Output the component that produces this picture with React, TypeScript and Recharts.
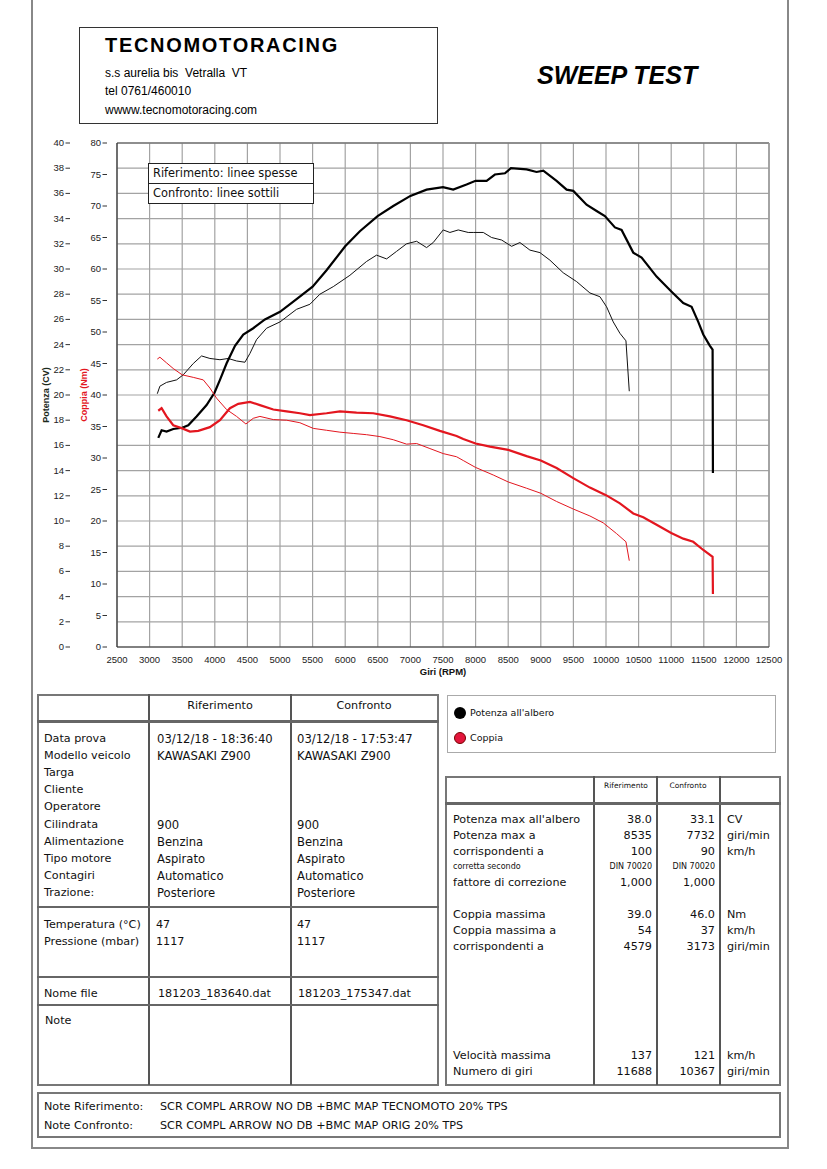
import React from "react";
import { LineChart, Line, XAxis, YAxis, CartesianGrid, ReferenceLine } from "recharts";

// ---------- data ----------
const refPowerRpm = [3133, 3184, 3260, 3363, 3500, 3593, 3720, 3874, 3997, 4079, 4180, 4310, 4437, 4590, 4769, 5000, 5254, 5500, 5714, 6000, 6225, 6497, 6737, 7000, 7248, 7500, 7657, 7861, 8000, 8169, 8296, 8450, 8542, 8782, 8935, 9038, 9242, 9396, 9498, 9702, 9856, 9983, 10137, 10239, 10418, 10546, 10776, 11006, 11185, 11313, 11415, 11492, 11594, 11635, 11640];
const refPowerCv = [16.6, 17.2, 17.1, 17.3, 17.4, 17.6, 18.3, 19.2, 20.2, 21.2, 22.5, 23.9, 24.8, 25.3, 26.0, 26.6, 27.6, 28.6, 29.9, 31.8, 33.0, 34.2, 35.0, 35.8, 36.3, 36.5, 36.3, 36.7, 37.0, 37.0, 37.5, 37.6, 38.0, 37.9, 37.7, 37.8, 37.0, 36.3, 36.2, 35.1, 34.6, 34.2, 33.3, 33.1, 31.3, 30.9, 29.4, 28.2, 27.3, 27.0, 25.8, 24.8, 23.9, 23.6, 13.8];

const cmpPowerRpm = [3118, 3158, 3260, 3414, 3516, 3670, 3797, 3925, 4079, 4206, 4334, 4462, 4539, 4641, 4794, 5000, 5254, 5459, 5612, 5817, 6072, 6328, 6481, 6635, 6788, 6941, 7095, 7248, 7350, 7503, 7606, 7734, 7887, 7964, 8118, 8245, 8399, 8552, 8680, 8833, 8987, 9140, 9344, 9549, 9753, 9907, 10009, 10111, 10213, 10306, 10357];
const cmpPowerCv = [20.1, 20.7, 21.0, 21.2, 21.6, 22.5, 23.1, 22.9, 22.8, 22.9, 22.7, 22.6, 23.3, 24.4, 25.3, 25.8, 26.8, 27.2, 28.0, 28.6, 29.5, 30.6, 31.1, 30.8, 31.4, 32.0, 32.2, 31.7, 32.1, 33.1, 32.9, 33.1, 32.9, 32.9, 32.9, 32.5, 32.3, 31.8, 32.1, 31.5, 31.3, 30.7, 29.7, 29.0, 28.1, 27.8, 27.0, 25.8, 24.9, 24.3, 20.3];

const refTorqueRpm = [3133, 3184, 3260, 3363, 3500, 3619, 3746, 3925, 4079, 4232, 4360, 4539, 4692, 4897, 5101, 5305, 5459, 5714, 5919, 6174, 6430, 6686, 6941, 7197, 7452, 7708, 7811, 8000, 8220, 8500, 8782, 9000, 9242, 9498, 9753, 10000, 10213, 10418, 10571, 10776, 11000, 11185, 11338, 11492, 11635, 11640];
const refTorqueNm = [37.5, 37.9, 36.6, 35.2, 34.7, 34.2, 34.3, 34.9, 36.0, 37.9, 38.6, 38.9, 38.4, 37.7, 37.4, 37.1, 36.8, 37.1, 37.4, 37.2, 37.1, 36.6, 36.0, 35.2, 34.3, 33.5, 33.0, 32.3, 31.8, 31.3, 30.3, 29.6, 28.4, 26.8, 25.3, 24.1, 22.8, 21.2, 20.6, 19.4, 18.1, 17.2, 16.7, 15.4, 14.3, 8.4];

const cmpTorqueRpm = [3118, 3158, 3260, 3363, 3500, 3670, 3823, 3925, 4027, 4180, 4334, 4477, 4590, 4692, 4897, 5101, 5305, 5510, 5714, 5919, 6123, 6328, 6532, 6737, 6941, 7095, 7299, 7503, 7708, 7811, 8000, 8271, 8500, 8782, 9000, 9242, 9498, 9753, 9958, 10162, 10306, 10357];
const cmpTorqueNm = [45.7, 46.0, 45.1, 44.2, 43.2, 42.8, 42.4, 41.1, 39.5, 37.7, 36.6, 35.4, 36.3, 36.6, 36.1, 36.0, 35.6, 34.7, 34.4, 34.1, 33.9, 33.7, 33.4, 32.9, 32.2, 32.3, 31.5, 30.7, 30.2, 29.6, 28.5, 27.3, 26.2, 25.2, 24.4, 23.1, 21.9, 20.8, 19.7, 18.0, 16.7, 13.7];

const rpmTicks = [2500, 3000, 3500, 4000, 4500, 5000, 5500, 6000, 6500, 7000, 7500, 8000, 8500, 9000, 9500, 10000, 10500, 11000, 11500, 12000, 12500];
const powerTicks = [0, 2, 4, 6, 8, 10, 12, 14, 16, 18, 20, 22, 24, 26, 28, 30, 32, 34, 36, 38, 40];
const torqueTicks = [0, 5, 10, 15, 20, 25, 30, 35, 40, 45, 50, 55, 60, 65, 70, 75, 80];

const leftRows = ["Data prova", "Modello veicolo", "Targa", "Cliente", "Operatore", "Cilindrata", "Alimentazione", "Tipo motore", "Contagiri", "Trazione:"];
const refRows = ["03/12/18 - 18:36:40", "KAWASAKI Z900", "", "", "", "900", "Benzina", "Aspirato", "Automatico", "Posteriore"];
const cmpRows = ["03/12/18 - 17:53:47", "KAWASAKI Z900", "", "", "", "900", "Benzina", "Aspirato", "Automatico", "Posteriore"];

const rightRowsA = ["Potenza max all'albero", "Potenza max a", "corrispondenti a", "corretta secondo", "fattore di correzione"];
const rightRefA = ["38.0", "8535", "100", "DIN 70020", "1,000"];
const rightCmpA = ["33.1", "7732", "90", "DIN 70020", "1,000"];
const rightUnitA = ["CV", "giri/min", "km/h", "", ""];
const rightRowsB = ["Coppia massima", "Coppia massima a", "corrispondenti a"];
const rightRefB = ["39.0", "54", "4579"];
const rightCmpB = ["46.0", "37", "3173"];
const rightUnitB = ["Nm", "km/h", "giri/min"];
const rightRowsC = ["Velocità massima", "Numero di giri"];
const rightRefC = ["137", "11688"];
const rightCmpC = ["121", "10367"];
const rightUnitC = ["km/h", "giri/min"];

const toSeries = (xs: number[], ys: number[], key: string) => xs.map((x, i) => ({ rpm: x, [key]: ys[i] }));
const refPower = toSeries(refPowerRpm, refPowerCv, "cv");
const cmpPower = toSeries(cmpPowerRpm, cmpPowerCv, "cv");
const refTorque = toSeries(refTorqueRpm, refTorqueNm, "nm");
const cmpTorque = toSeries(cmpTorqueRpm, cmpTorqueNm, "nm");

const RED = "#e3161f";
const NARROW = "'Liberation Sans Narrow', 'Arial Narrow', 'Liberation Sans', sans-serif";
const TAHOMA = "'DejaVu Sans', Verdana, sans-serif";
const ARIAL = "'Liberation Sans', Arial, sans-serif";

const PowerTick = (props: any) => {
  const { y, payload } = props;
  return (
    <g>
      <text x={64} y={y + 3} textAnchor="end" fontFamily={NARROW} fontSize={9.5} fill="#222">{payload.value}</text>
      <line x1={65.5} x2={70} y1={y} y2={y} stroke="#333" strokeWidth={1} />
    </g>
  );
};
const TorqueTick = (props: any) => {
  const { y, payload } = props;
  return (
    <g>
      <text x={101} y={y + 3} textAnchor="end" fontFamily={NARROW} fontSize={9.5} fill="#222">{payload.value}</text>
      <line x1={102.5} x2={107} y1={y} y2={y} stroke="#333" strokeWidth={1} />
    </g>
  );
};
const RpmTick = (props: any) => {
  const { x, payload } = props;
  return (
    <text x={x} y={663} textAnchor="middle" fontFamily={NARROW} fontSize={9.5} fill="#222">{payload.value}</text>
  );
};

const abs = (l: number, t: number, extra: React.CSSProperties = {}): React.CSSProperties => ({ position: "absolute", left: l, top: t, ...extra });
const hline = (l: number, t: number, w: number, h: number, c = "#777") => <div style={abs(l, t, { width: w, height: h, background: c })} />;
const vline = (l: number, t: number, h: number, w: number, c = "#777") => <div style={abs(l, t, { width: w, height: h, background: c })} />;

const T = (l: number, cy: number, text: string, size = 11.2, extra: React.CSSProperties = {}) => (
  <div style={abs(l, cy - 8, { fontFamily: TAHOMA, fontSize: size, lineHeight: "16px", whiteSpace: "nowrap", color: "#111", ...extra })}>{text}</div>
);
const TR = (r: number, cy: number, text: string, size = 11.2) => (
  <div style={abs(r - 120, cy - 8, { width: 120, textAlign: "right", fontFamily: TAHOMA, fontSize: size, lineHeight: "16px", whiteSpace: "nowrap", color: "#111" })}>{text}</div>
);
const TC = (c: number, cy: number, text: string, size = 11.2) => (
  <div style={abs(c - 80, cy - 8, { width: 160, textAlign: "center", fontFamily: TAHOMA, fontSize: size, lineHeight: "16px", whiteSpace: "nowrap", color: "#111" })}>{text}</div>
);

export default function App() {
  return (
    <div style={{ position: "absolute", left: 0, top: 0, width: 827, height: 1169, background: "#fff", overflow: "hidden" }}>
      {/* page frame */}
      {vline(31, 0, 1148, 2, "#888")}
      {vline(787, 0, 1148, 2, "#888")}
      {hline(31, 1147, 758, 2, "#888")}

      {/* header */}
      <div style={abs(79, 27, { width: 359, height: 97, border: "1px solid #333", boxSizing: "border-box" })} />
      <div style={abs(105, 31, { fontFamily: ARIAL, fontWeight: "bold", fontSize: 20, letterSpacing: 1.7, lineHeight: "28px", color: "#000" })}>TECNOMOTORACING</div>
      <div style={abs(105, 65, { fontFamily: ARIAL, fontSize: 12, lineHeight: "16px", whiteSpace: "pre" })}>{"s.s aurelia bis  Vetralla  VT"}</div>
      <div style={abs(105, 83, { fontFamily: ARIAL, fontSize: 12, lineHeight: "16px" })}>tel 0761/460010</div>
      <div style={abs(105, 102, { fontFamily: ARIAL, fontSize: 12, lineHeight: "16px" })}>wwww.tecnomotoracing.com</div>
      <div style={abs(537, 58, { fontFamily: ARIAL, fontWeight: "bold", fontStyle: "italic", fontSize: 25, lineHeight: "34px", color: "#000" })}>SWEEP TEST</div>

      {/* chart */}
      <div style={abs(0, 0)}>
        <LineChart width={827} height={690} margin={{ top: 143, right: 58, bottom: 13, left: 115 }}>
          <CartesianGrid yAxisId="p" stroke="#a3a3a3" strokeWidth={1.2} />
          <XAxis dataKey="rpm" type="number" domain={[2500, 12500]} ticks={rpmTicks} interval={0} allowDataOverflow
            axisLine={{ stroke: "#333", strokeWidth: 1.2 }} tickLine={false} tick={<RpmTick />} height={30} />
          <YAxis yAxisId="p" type="number" domain={[0, 40]} ticks={powerTicks} interval={0} width={1} axisLine={false} tickLine={false} tick={<PowerTick />} />
          <YAxis yAxisId="t" type="number" domain={[0, 80]} ticks={torqueTicks} interval={0} width={1} axisLine={false} tickLine={false} tick={<TorqueTick />} />
          <ReferenceLine yAxisId="p" y={40} stroke="#777" strokeWidth={1.5} />
          <ReferenceLine yAxisId="p" x={12500} stroke="#999" strokeWidth={1.5} />
          <ReferenceLine yAxisId="p" x={2500} stroke="#333" strokeWidth={1.2} />
          <Line yAxisId="p" data={cmpPower} dataKey="cv" type="linear" stroke="#111" strokeWidth={1} dot={false} isAnimationActive={false} />
          <Line yAxisId="p" data={refPower} dataKey="cv" type="linear" stroke="#000" strokeWidth={2.2} dot={false} isAnimationActive={false} />
          <Line yAxisId="t" data={cmpTorque} dataKey="nm" type="linear" stroke={RED} strokeWidth={1} dot={false} isAnimationActive={false} />
          <Line yAxisId="t" data={refTorque} dataKey="nm" type="linear" stroke={RED} strokeWidth={2.2} dot={false} isAnimationActive={false} />
          <text x={443} y={675} textAnchor="middle" fontFamily={NARROW} fontWeight="bold" fontSize={9.5} fill="#111">Giri (RPM)</text>
          <text transform="translate(49,395) rotate(-90)" textAnchor="middle" fontFamily={NARROW} fontWeight="bold" fontSize={9} fill="#1c2a1c">Potenza (CV)</text>
          <text transform="translate(87,395) rotate(-90)" textAnchor="middle" fontFamily={NARROW} fontWeight="bold" fontSize={9} fill={RED}>Coppia (Nm)</text>
        </LineChart>
      </div>

      {/* in-chart legend */}
      <div style={abs(148, 163, { width: 166, height: 41, border: "1px solid #222", boxSizing: "border-box", background: "#fff" })} />
      {hline(148, 183, 166, 1, "#222")}
      {T(153, 173, "Riferimento: linee spesse", 11.4)}
      {T(153, 193, "Confronto: linee sottili", 11.4)}

      {/* left table */}
      <div style={abs(37, 694, { width: 402, height: 392, border: "2px solid #777", boxSizing: "border-box" })} />
      {vline(148, 694, 391, 1.5, "#555")}
      {vline(290, 694, 391, 1.5, "#555")}
      {hline(37, 720, 402, 3, "#666")}
      {hline(37, 906, 402, 1.5, "#666")}
      {hline(37, 976, 402, 1.5, "#666")}
      {hline(37, 1004, 402, 1.5, "#666")}
      {TC(220, 706, "Riferimento")}
      {TC(364, 706, "Confronto")}
      {leftRows.map((r, i) => <React.Fragment key={r}>{T(44, 739 + i * 17.1, r)}</React.Fragment>)}
      {refRows.map((r, i) => <React.Fragment key={"a" + i}>{T(157, 739 + i * 17.1, r, 11.6)}</React.Fragment>)}
      {cmpRows.map((r, i) => <React.Fragment key={"b" + i}>{T(297, 739 + i * 17.1, r, 11.6)}</React.Fragment>)}
      {T(44, 925, "Temperatura (°C)")}
      {T(44, 942, "Pressione (mbar)")}
      {T(156, 925, "47")}
      {T(156, 942, "1117")}
      {T(297, 925, "47")}
      {T(297, 942, "1117")}
      {T(44, 994, "Nome file")}
      {T(158, 994, "181203_183640.dat")}
      {T(298, 994, "181203_175347.dat")}
      {T(45, 1021, "Note")}

      {/* series legend */}
      <div style={abs(447, 695, { width: 329, height: 58, border: "1.5px solid #aaa", boxSizing: "border-box" })} />
      <div style={abs(454, 707, { width: 12, height: 12, borderRadius: 6, background: "#000" })} />
      <div style={abs(454, 732, { width: 12, height: 12, borderRadius: 6, background: "#e3163c", border: "1px solid #700", boxSizing: "border-box" })} />
      {T(470, 713, "Potenza all'albero", 9.5)}
      {T(470, 738, "Coppia", 9.5)}

      {/* right table */}
      <div style={abs(445, 776, { width: 336, height: 310, border: "2px solid #777", boxSizing: "border-box" })} />
      {vline(593, 776, 309, 1.5, "#555")}
      {vline(656, 776, 309, 1.5, "#555")}
      {vline(719, 776, 309, 1.5, "#555")}
      {hline(445, 802, 336, 3, "#666")}
      {TC(626, 786, "Riferimento", 7.5)}
      {TC(688, 786, "Confronto", 7.5)}
      {rightRowsA.map((r, i) => <React.Fragment key={r}>{T(453, 820 + i * 15.8, r, i === 3 ? 8 : 11.2)}</React.Fragment>)}
      {rightRefA.map((r, i) => <React.Fragment key={"ra" + i}>{TR(652, 820 + i * 15.8, r, i === 3 ? 8 : 11.2)}</React.Fragment>)}
      {rightCmpA.map((r, i) => <React.Fragment key={"ca" + i}>{TR(715, 820 + i * 15.8, r, i === 3 ? 8 : 11.2)}</React.Fragment>)}
      {rightUnitA.map((r, i) => <React.Fragment key={"ua" + i}>{T(727, 820 + i * 15.8, r)}</React.Fragment>)}
      {rightRowsB.map((r, i) => <React.Fragment key={"b" + r}>{T(453, 915 + i * 16, r)}</React.Fragment>)}
      {rightRefB.map((r, i) => <React.Fragment key={"rb" + i}>{TR(652, 915 + i * 16, r)}</React.Fragment>)}
      {rightCmpB.map((r, i) => <React.Fragment key={"cb" + i}>{TR(715, 915 + i * 16, r)}</React.Fragment>)}
      {rightUnitB.map((r, i) => <React.Fragment key={"ub" + i}>{T(727, 915 + i * 16, r)}</React.Fragment>)}
      {rightRowsC.map((r, i) => <React.Fragment key={"c" + r}>{T(453, 1056 + i * 16, r)}</React.Fragment>)}
      {rightRefC.map((r, i) => <React.Fragment key={"rc" + i}>{TR(652, 1056 + i * 16, r)}</React.Fragment>)}
      {rightCmpC.map((r, i) => <React.Fragment key={"cc" + i}>{TR(715, 1056 + i * 16, r)}</React.Fragment>)}
      {rightUnitC.map((r, i) => <React.Fragment key={"uc" + i}>{T(727, 1056 + i * 16, r)}</React.Fragment>)}

      {/* notes box */}
      <div style={abs(37, 1092, { width: 744, height: 46, border: "2px solid #777", boxSizing: "border-box" })} />
      {T(44, 1107, "Note Riferimento:")}
      {T(44, 1126, "Note Confronto:")}
      {T(160, 1107, "SCR COMPL ARROW NO DB +BMC MAP TECNOMOTO 20% TPS")}
      {T(160, 1126, "SCR COMPL ARROW NO DB +BMC MAP ORIG 20% TPS")}
    </div>
  );
}
